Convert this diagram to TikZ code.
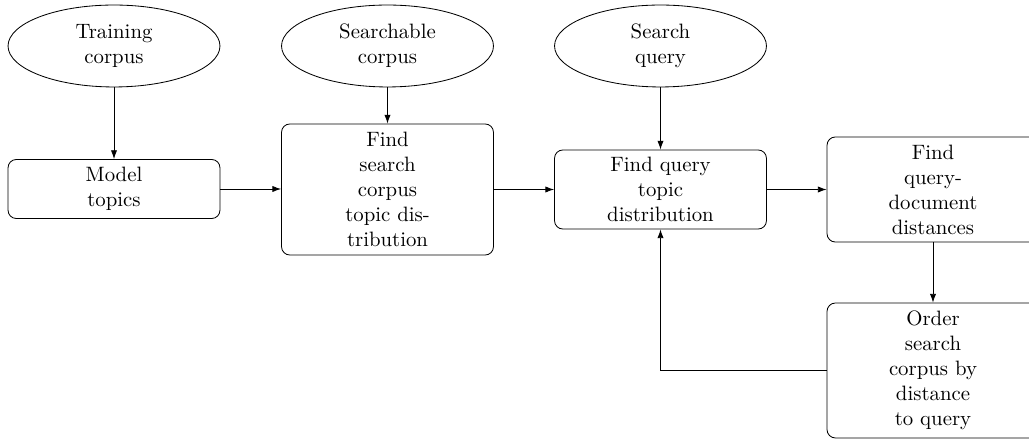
\documentclass[tikz,border=0pt]{standalone}
\usetikzlibrary{shapes.geometric,arrows.meta}
\begin{document}
\begin{tikzpicture}[x=0.4808pt,y=-0.4808pt,
  >={Latex[length=4.2pt,width=3pt]},
  blk/.style={draw, line width=0.4pt, rounded corners=4pt, align=center, minimum width=101.9pt, inner sep=3.33pt},
  cld/.style={draw, line width=0.4pt, ellipse, align=center, minimum width=101.9pt, minimum height=39.4pt, inner sep=0pt},
  conn/.style={->, line width=0.4pt}]
\useasboundingbox (0,0) rectangle (1029,439);
\node[cld] (e1) at (114,46) {Training\\corpus};
\node[cld] (e2) at (387.5,46) {Searchable\\corpus};
\node[cld] (e3) at (660.5,46) {Search\\query};
\node[blk, minimum height=28.4pt] (b1) at (114,189) {Model\\topics};
\node[blk, minimum height=63.0pt] (b2) at (387.5,189.5) {Find\\search\\corpus\\topic dis-\\tribution};
\node[blk, minimum height=38.0pt] (b3) at (660.5,189.5) {Find query\\topic\\distribution};
\node[blk, minimum height=50.5pt] (b4) at (933,189.5) {Find\\query-\\document\\distances};
\node[blk, minimum height=64.9pt] (b5) at (933,370.5) {Order\\search\\corpus by\\distance\\to query};
\draw[conn] (e1) -- (b1);
\draw[conn] (e2) -- (b2);
\draw[conn] (e3) -- (b3);
\draw[conn] (b1.east) -- (b2.west |- b1.east);
\draw[conn] (b2) -- (b3);
\draw[conn] (b3) -- (b4);
\draw[conn] (b4) -- (b5);
\draw[conn] (b5.west) -| (b3.south);
\end{tikzpicture}
\end{document}
